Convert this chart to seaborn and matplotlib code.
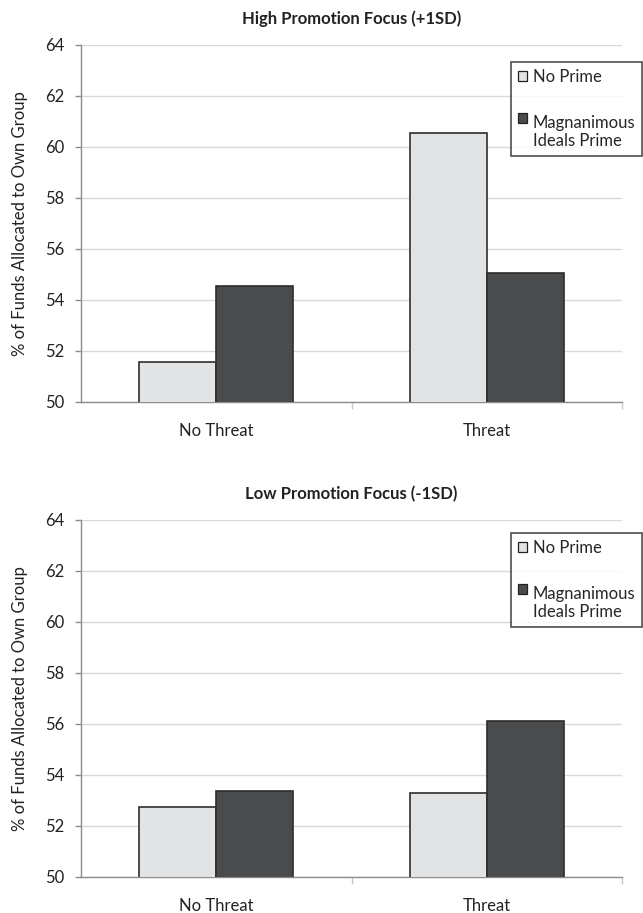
# Two-panel grouped bar chart: funds allocated by threat x prime
import matplotlib
matplotlib.use('Agg')

import matplotlib.pyplot as plt
import seaborn as sns
import pandas as pd
from matplotlib.ticker import FixedLocator
from matplotlib.legend_handler import HandlerPatch
from matplotlib.patches import Rectangle

# =========================
# DATA
# =========================
conditions = ["No Threat", "Threat"]
primes = ["No Prime", "Magnanimous\nIdeals Prime"]

high_no_prime = [51.57, 60.53]
high_magnanimous = [54.55, 55.05]

low_no_prime = [52.75, 53.30]
low_magnanimous = [53.37, 56.10]

panel_titles = ["High Promotion Focus (+1SD)", "Low Promotion Focus (-1SD)"]
y_label = "% of Funds Allocated to Own Group"
y_ticks = [50, 52, 54, 56, 58, 60, 62, 64]

colors = ["#E2E3E5", "#4A4B4D"]
FS = 12


def make_frame(no_prime, magn):
    return pd.DataFrame({
        "condition": conditions * 2,
        "prime": [primes[0]] * 2 + [primes[1]] * 2,
        "value": list(no_prime) + list(magn),
    })


# handle of a two-line label sits on the first line (Excel style)
def first_line_patch(legend, orig_handle, xdescent, ydescent,
                     width, height, fontsize):
    return Rectangle((-xdescent, -ydescent + 0.9 * fontsize), width, height)


# =========================
# STYLE
# =========================
sns.set_style("white")
plt.rcParams['font.family'] = ['Lato', 'DejaVu Sans']

fig = plt.figure(figsize=(6.43, 9.13), dpi=100)

ax_w = 541 / 643
ax_l = 81 / 643
ax_h = 357 / 913
axes = [
    fig.add_axes([ax_l, (913 - 402) / 913, ax_w, ax_h]),
    fig.add_axes([ax_l, (913 - 877) / 913, ax_w, ax_h]),
]
legend_tops = [1 - 62 / 913, 1 - 533 / 913]

data_sets = [make_frame(high_no_prime, high_magnanimous),
             make_frame(low_no_prime, low_magnanimous)]

for ax, df, title, ltop in zip(axes, data_sets, panel_titles, legend_tops):
    sns.barplot(data=df, x="condition", y="value", hue="prime",
                palette=colors, width=0.57, ax=ax,
                edgecolor="#2E2E2E", linewidth=1.2, saturation=1,
                errorbar=None, zorder=3)

    ax.set_ylim(50, 64)
    ax.set_xlim(-0.5, 1.5)
    ax.set_yticks(y_ticks)
    ax.grid(axis="y", color="#D9D9D9", linewidth=1.0, zorder=0)
    ax.set_axisbelow(True)

    for s in ["top", "right"]:
        ax.spines[s].set_visible(False)
    for s in ["left", "bottom"]:
        ax.spines[s].set_color("#8C8C8C")
        ax.spines[s].set_linewidth(1.0)

    ax.tick_params(axis="y", length=4, width=1, color="#8C8C8C",
                   labelsize=FS, labelcolor="#222222", pad=8, left=True)
    ax.tick_params(axis="x", which="major", length=0, pad=15,
                   labelsize=FS, labelcolor="#222222")
    ax.xaxis.set_minor_locator(FixedLocator([0.5, 1.5]))
    ax.tick_params(axis="x", which="minor", length=5, width=1,
                   color="#C8C8C8", bottom=True)

    ax.set_xlabel("")
    ax.set_ylabel(y_label, fontsize=FS, color="#222222", labelpad=12)
    ax.set_title(title, fontsize=FS, fontweight="bold", pad=15,
                 color="#222222")

    handles, labels = ax.get_legend_handles_labels()
    ax.legend_.remove()
    leg = ax.legend(handles, labels, loc="upper right",
                    bbox_to_anchor=(642 / 643, ltop),
                    bbox_transform=fig.transFigure,
                    fontsize=FS, frameon=True, fancybox=False,
                    handlelength=0.55, handleheight=0.55,
                    handletextpad=0.35, labelspacing=1.8,
                    borderpad=0.4, borderaxespad=0,
                    handler_map={handles[1]: HandlerPatch(patch_func=first_line_patch)})
    leg.get_frame().set_edgecolor("#222222")
    leg.get_frame().set_linewidth(1.2)
    for h in leg.legend_handles:
        h.set_edgecolor("#222222")
        h.set_linewidth(0.9)

fig.savefig("out.png", dpi=100)
plt.close()
